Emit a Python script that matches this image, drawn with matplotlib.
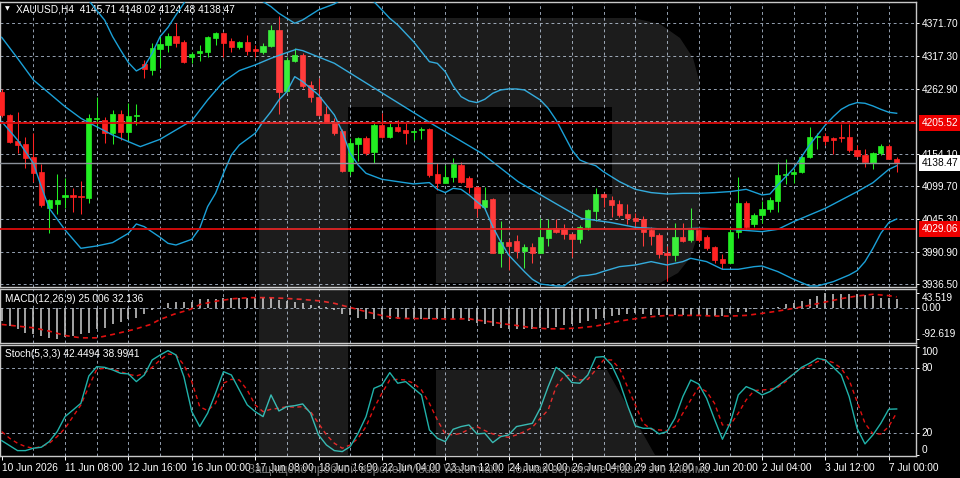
import matplotlib
matplotlib.use("Agg")
import matplotlib.pyplot as plt
from matplotlib.patches import Polygon
from matplotlib.transforms import blended_transform_factory
import numpy as np

W, H = 960, 478

# XAUUSD H4 bars, 10 Jun 2026 00:00 .. 7 Jul 2026 04:00
opens = [4257.7, 4218.8, 4176.0, 4170.4, 4149.3, 4123.2, 4063.0, 4069.9, 4082.6, 4085.0,
         4083.7, 4080.9, 4211.5, 4209.9, 4189.3, 4220.5, 4191.0, 4216.5, 4303.3, 4293.9,
         4328.3, 4335.6, 4350.6, 4341.1, 4315.0, 4321.7, 4323.3, 4346.7, 4356.1, 4342.2,
         4332.8, 4340.0, 4328.3, 4324.4, 4334.4, 4360.6, 4259.4, 4308.8, 4318.9, 4268.9,
         4248.3, 4220.5, 4207.7, 4192.6, 4125.9, 4170.4, 4179.9, 4157.5, 4202.1, 4181.5,
         4199.3, 4193.8, 4191.0, 4193.8, 4195.0, 4120.4, 4106.0, 4114.8, 4135.4, 4113.2,
         4099.3, 4064.8, 4078.1, 3989.2, 4007.5, 4009.2, 3992.5, 3998.1, 3989.2, 4013.1,
         4029.8, 4029.8, 4020.3, 4011.4, 4031.4, 4059.2, 4087.0, 4077.0, 4070.3, 4053.7,
         4046.4, 4044.8, 4027.0, 4018.6, 3988.1, 3985.3, 4015.8, 4010.3, 4027.0, 4015.8,
         3998.1, 3978.0, 3972.5, 4024.2, 4072.6, 4037.0, 4052.0, 4061.4, 4075.9, 4118.7,
         4120.4, 4124.3, 4148.2, 4181.5, 4183.8, 4179.9, 4181.5, 4181.5, 4160.4, 4151.5,
         4139.3, 4154.9, 4167.1, 4145.71]
highs = [4262.0, 4221.0, 4224.4, 4182.7, 4188.2, 4136.5, 4078.0, 4120.4, 4113.2, 4096.5,
         4108.8, 4219.9, 4249.4, 4214.9, 4227.1, 4227.1, 4238.3, 4237.2, 4310.5, 4338.3,
         4348.3, 4355.0, 4371.7, 4343.9, 4324.4, 4335.6, 4350.6, 4357.8, 4357.8, 4346.7,
         4342.8, 4352.2, 4335.6, 4338.3, 4368.9, 4384.0, 4316.1, 4331.1, 4322.8, 4276.1,
         4280.0, 4233.8, 4213.2, 4194.9, 4179.9, 4182.7, 4183.8, 4206.0, 4221.6, 4204.9,
         4210.4, 4206.0, 4193.8, 4198.2, 4196.6, 4138.2, 4135.4, 4146.5, 4141.0, 4117.1,
         4100.4, 4099.3, 4079.8, 4042.5, 4011.4, 4018.6, 4003.6, 4004.7, 4046.4, 4044.8,
         4044.8, 4037.0, 4021.4, 4035.3, 4061.4, 4096.5, 4089.3, 4083.7, 4077.0, 4070.3,
         4054.8, 4050.4, 4032.5, 4021.4, 4000.3, 4039.2, 4039.2, 4063.1, 4032.5, 4018.6,
         4000.3, 3986.9, 4032.5, 4115.9, 4075.3, 4054.8, 4075.9, 4081.5, 4141.0, 4144.9,
         4128.2, 4150.4, 4198.2, 4189.3, 4189.3, 4181.5, 4203.8, 4203.8, 4168.7, 4161.5,
         4157.5, 4170.4, 4170.4, 4148.02]
lows = [4215.0, 4172.0, 4154.9, 4129.9, 4107.6, 4066.0, 4022.5, 4053.7, 4063.1, 4057.6,
        4053.1, 4072.6, 4196.5, 4171.5, 4170.4, 4177.1, 4177.1, 4202.1, 4281.1, 4285.5,
        4296.7, 4324.4, 4332.8, 4306.1, 4306.1, 4309.4, 4315.0, 4335.6, 4315.0, 4324.4,
        4328.3, 4318.9, 4316.1, 4320.5, 4332.8, 4219.9, 4257.7, 4307.7, 4263.3, 4241.1,
        4217.1, 4204.9, 4185.4, 4124.0, 4118.7, 4142.6, 4152.1, 4138.2, 4179.9, 4179.9,
        4191.0, 4170.4, 4177.1, 4178.2, 4116.0, 4093.7, 4104.9, 4107.6, 4106.0, 4088.2,
        4049.2, 4060.0, 3988.1, 3965.8, 3960.3, 3979.7, 3963.0, 3971.4, 3988.1, 4000.3,
        4021.4, 4011.4, 3981.4, 4004.7, 4027.0, 4042.5, 4064.8, 4049.2, 4049.2, 4037.0,
        4032.5, 4000.3, 4002.0, 3979.7, 3942.5, 3975.8, 4007.5, 4007.5, 4007.5, 3993.6,
        3971.4, 3961.9, 3971.4, 4013.1, 4027.0, 4031.4, 4039.2, 4057.5, 4057.5, 4103.8,
        4106.0, 4121.5, 4146.5, 4161.5, 4168.7, 4153.8, 4174.3, 4157.5, 4148.2, 4132.1,
        4129.3, 4151.5, 4144.9, 4124.48]
closes = [4218.8, 4174.3, 4168.2, 4146.5, 4121.5, 4068.7, 4077.0, 4077.7, 4085.4, 4082.6,
          4081.5, 4213.2, 4213.2, 4189.3, 4220.5, 4191.0, 4217.7, 4218.8, 4295.0, 4330.0,
          4336.7, 4351.1, 4339.4, 4307.7, 4320.5, 4325.5, 4348.3, 4356.1, 4339.4, 4331.7,
          4340.0, 4326.1, 4326.1, 4334.4, 4360.6, 4257.7, 4310.5, 4318.9, 4267.2, 4248.3,
          4218.8, 4206.0, 4189.3, 4125.9, 4171.5, 4179.9, 4155.8, 4202.1, 4181.5, 4199.3,
          4192.6, 4189.3, 4192.6, 4195.4, 4118.7, 4106.0, 4114.8, 4137.1, 4107.6, 4098.2,
          4063.1, 4077.0, 3989.2, 4007.5, 4000.3, 3992.5, 3998.1, 3988.1, 4014.7, 4028.1,
          4024.2, 4020.3, 4011.4, 4032.5, 4060.3, 4087.0, 4081.5, 4068.7, 4052.0, 4046.4,
          4042.5, 4024.2, 4017.0, 3986.9, 3985.3, 4015.8, 4009.2, 4027.0, 4010.3, 3996.4,
          3976.9, 3972.5, 4024.2, 4071.4, 4032.5, 4052.0, 4061.4, 4077.0, 4118.7, 4120.4,
          4124.3, 4148.2, 4181.5, 4183.8, 4176.0, 4177.1, 4179.9, 4160.4, 4150.4, 4140.4,
          4155.8, 4167.1, 4145.7, 4138.47]

# Bollinger bands, read at bar positions
bb_up_x = [0, 8, 12, 13, 14, 15, 16, 17, 18, 19, 20, 21, 22, 23, 24, 28, 31, 33, 34, 35, 36, 37, 38,
           40, 42, 44, 46, 47, 48, 49, 50, 51, 52, 53, 54, 55, 56, 57, 58, 59, 60, 61, 62, 63, 64,
           65, 66, 67, 68, 69, 70, 71, 72, 73, 74, 75, 76, 78, 80, 82, 84, 86, 88, 90, 92, 94, 96,
           97, 98, 99, 100, 101, 102, 103, 104, 105, 106, 107, 108, 109, 110, 111, 112, 113]
bb_up = [4500, 4460, 4393, 4377, 4349.5, 4327.2, 4306.1, 4292.2, 4299.4, 4321.7, 4349.5, 4365,
         4385.6, 4405, 4425, 4470, 4440, 4407.8, 4399.5, 4388.4, 4380, 4371.7, 4377.3,
         4394, 4404, 4420, 4410, 4407.8, 4394, 4380, 4369, 4355, 4341.1, 4324.4, 4307.7, 4304.9,
         4291, 4267.2, 4249.4, 4242.2, 4239.4, 4245, 4255, 4260.5, 4262.2,
         4262.2, 4260.5, 4252.2, 4243.8, 4229.9, 4210.4, 4185.4, 4160.4, 4143.7, 4138.2, 4134.2,
         4124, 4107.6, 4094.8, 4089.3, 4087, 4088.1, 4088.1, 4089.3, 4091, 4094.8, 4085.4,
         4087, 4102.1, 4116, 4129.9, 4149.3, 4168.7, 4185.4, 4202.1, 4216, 4228.2, 4235.4,
         4239.4, 4238.3, 4233.8, 4228.2, 4223.3, 4221.6]
bb_mid_x = [0, 2, 4, 6, 8, 10, 11, 14, 17.5, 20, 22, 24, 26, 28, 30, 32, 34, 36, 37.2, 38, 42,
            54.2, 60.6, 65.2, 69.9, 73.2, 77, 80, 84, 88, 92, 96, 98, 100, 104, 108, 110, 112, 113]
bb_mid = [4348.3, 4313.3, 4277.2, 4255, 4232.7, 4213.2, 4206, 4185.4, 4166, 4178.2, 4193.8,
          4209.3, 4243.8, 4274.4, 4292.8, 4302.2, 4313.3, 4322.8, 4328.3, 4326.1, 4305,
          4204.9, 4154.9, 4107.6, 4071.4, 4046.4, 4039.2, 4031.4, 4028.1, 4029.8, 4028.1,
          4024.2, 4028.1, 4040.9, 4063.1, 4090.8, 4105.8, 4128, 4134.2]
bb_low_x = [0, 2, 4, 5, 6, 8, 10, 12, 14, 16, 17, 18, 20, 21, 22, 24, 25, 26, 27, 28, 29, 30, 32,
            33, 34, 35, 36, 37, 38, 40, 42, 43, 44, 45, 46, 48, 50, 52, 54, 55, 56, 57, 58, 59,
            60, 61, 62, 63, 64, 65, 66, 67, 68, 70, 71, 72, 73, 74, 75, 76, 78, 80, 82, 84, 86,
            87, 89, 91, 93, 95, 96, 98, 100, 102, 103, 105, 107, 108, 109, 110, 111, 112, 113]
bb_low = [4207.7, 4177.1, 4138.2, 4099.3, 4063.1, 4027, 3996.4, 4000.3, 4005.9, 4021.4, 4037,
          4032.5, 4014.7, 4004.7, 4001.9, 4011.4, 4029.8, 4065.9, 4088.1, 4121.5, 4152.1,
          4168.7, 4188.2, 4207.7, 4224.4, 4243.8, 4257.7, 4282.7, 4274.4, 4252.2, 4218.8,
          4191, 4154.9, 4135.4, 4121.5, 4111.5, 4107.6, 4103.8, 4106, 4094.8, 4089.3, 4096.5,
          4094.8, 4085.4, 4074.2, 4063.1, 4032.5, 4007.5, 3985.3, 3971.4, 3957.5, 3944.7,
          3936.9, 3933.6, 3933.6, 3943.6, 3950.3, 3951.4, 3953.6, 3958, 3965.8, 3968.6, 3974.2,
          3968.6, 3974.2, 3979.7, 3974.2, 3961.4, 3961.4, 3965.8, 3966.9, 3957.5, 3944.7,
          3933.6, 3933.6, 3940.8, 3951.9, 3959.2, 3974.2, 3996.4, 4021.4, 4039.2, 4045.3]

# MACD(12,26,9): main as histogram, signal as dotted line
macd_main = [-40, -55, -65, -75, -80, -85, -90, -92.619, -88, -85,
             -80, -75, -65, -60, -50, -43, -35, -30, -20, -7,
             0.5, 13, 17, 17, 18, 25, 25, 27, 28, 29,
             30, 30, 30, 29, 28, 23, 20, 17, 13, 7,
             5, 3, -8, -20, -22, -30, -33, -33, -33, -33,
             -35, -33, -33, -33, -35, -35, -35, -35, -35, -40,
             -45, -50, -55, -60, -63, -63, -65, -65, -60, -60,
             -57, -53, -50, -47, -40, -35, -30, -25, -23, -20,
             -17, -20, -23, -23, -23, -23, -23, -25, -25, -23,
             -25, -25, -17, -13, -13, -5, -3, -1, 3, 10,
             15, 20, 27, 35, 43.519, 41, 41, 41, 42, 37,
             35, 30, 30, 25.006]
macd_sig_x = [0, 2, 4, 6, 8, 10, 12, 14, 16.7, 18.8, 20, 21.7, 23.8, 25.1, 27.2, 29.3, 31.4, 33.5,
              35.7, 37.8, 40.3, 42, 44.1, 46.2, 48.3, 50.4, 54.6, 57, 59, 60, 62, 63, 65, 67, 69,
              71, 73, 75, 76, 78, 80, 82, 84, 86, 88, 90, 92, 94, 96, 98, 100, 102, 104, 106,
              108, 110, 112, 113]
macd_sig = [-50, -55, -60, -70, -83, -90, -90, -80, -65, -50, -35, -20, -5, 10, 20, 27, 30, 30,
            28, 25, 20, 13, 0, -13, -25, -32, -33, -34, -33, -37, -43, -47, -53, -60, -63,
            -63, -60, -55, -50, -40, -33, -27, -23, -23, -23, -25, -25, -23, -17, -10, -2, 7, 17, 27,
            35, 40, 36, 32.136]

# Stochastic(5,3,3)
stoch_main = [13.2, 8.6, 4.0, 4.0, 6.2, 7.1, 12.3, 21.5, 35.4, 41.5,
              47.7, 72.9, 81.5, 80.9, 78.5, 75.4, 74.8, 67.7, 73.8, 87.7,
              92.3, 96.3, 92.3, 72.3, 40.0, 26.2, 38.5, 56.9, 76.9, 73.8,
              60.0, 46.2, 40.0, 35.4, 55.4, 40.6, 44.6, 45.5, 47.1, 38.5,
              18.5, 9.2, 4.0, 3.1, 7.7, 20.0, 35.4, 61.5, 64.6, 76.0,
              66.2, 67.7, 61.5, 55.4, 23.1, 15.4, 12.3, 23.7, 26.2, 27.7,
              19.4, 20.0, 11.4, 16.9, 18.5, 26.2, 27.7, 29.2, 43.1, 63.1,
              80.9, 75.4, 66.8, 66.2, 73.8, 90.2, 90.8, 83.1, 67.7, 46.2,
              26.8, 24.6, 24.6, 19.4, 21.5, 33.8, 53.8, 69.2, 65.5, 52.3,
              32.9, 14.5, 29.8, 55.4, 63.1, 60.0, 55.4, 58.5, 63.7, 69.2,
              74.8, 80.9, 84.6, 89.2, 87.7, 80.9, 73.8, 53.8, 24.6, 10.2,
              18.5, 29.2, 42.2, 42.4494]
stoch_sig = [21.5, 15.4, 10.8, 7.7, 6.2, 7.7, 10.8, 16.9, 24.6, 35.4,
             46.2, 63.1, 79.1, 80.0, 79.1, 76.9, 74.5, 72.9, 75.4, 80.9,
             87.7, 93.2, 92.3, 83.1, 67.7, 44.6, 40.9, 47.7, 66.2, 69.8,
             69.2, 60.0, 46.2, 40.0, 42.2, 43.1, 44.6, 44.0, 44.6, 40.0,
             29.2, 18.5, 10.8, 6.2, 9.2, 15.4, 26.2, 43.1, 56.9, 69.2,
             69.8, 69.2, 66.2, 60.0, 47.7, 32.3, 19.4, 18.5, 20.0, 23.7,
             26.2, 22.5, 19.4, 17.5, 16.3, 18.5, 21.5, 25.5, 33.8, 41.5,
             63.1, 72.9, 73.8, 69.2, 69.8, 78.5, 87.7, 87.7, 80.0, 63.1,
             46.2, 29.2, 23.7, 23.1, 22.5, 26.2, 38.5, 50.8, 62.5, 58.5,
             47.7, 27.7, 27.7, 38.5, 50.8, 59.4, 60.0, 60.6, 62.5, 67.7,
             75.4, 80.0, 82.2, 86.2, 87.7, 85.2, 80.0, 69.2, 49.2, 29.2,
             19.4, 19.4, 26.2, 38.9941]

time_labels = ["10 Jun 2026", "11 Jun 08:00", "12 Jun 16:00", "16 Jun 00:00", "17 Jun 08:00",
               "18 Jun 16:00", "22 Jun 04:00", "23 Jun 12:00", "24 Jun 20:00", "26 Jun 04:00",
               "29 Jun 12:00", "30 Jun 20:00", "2 Jul 04:00", "3 Jul 12:00", "7 Jul 00:00"]
time_label_bars = list(range(0, 113, 8))

price_grid = [4371.70, 4317.30, 4262.90, 4208.50, 4154.10, 4099.70, 4045.30, 3990.90, 3936.50]
price_ticks = [4371.70, 4317.30, 4262.90, 4154.10, 4099.70, 4045.30, 3990.90, 3936.50]
level_lines = [4205.52, 4029.06]
last_price = 4138.47

title_main = "XAUUSD,H4  4145.71 4148.02 4124.48 4138.47"
title_macd = "MACD(12,26,9) 25.006 32.136"
title_stoch = "Stoch(5,3,3) 42.4494 38.9941"
watermark = "Защищено пробной версией Visual Watermark. Полная версия не ставит это клеймо."

# ---- style ----
plt.rcParams['font.family'] = ['Liberation Sans Narrow', 'Liberation Sans', 'DejaVu Sans']
FS = 7.3
BULL, BEAR = '#22ee22', '#ff2222'
BAND = '#1ba1d8'
GRID = '#8f9bab'
BORDER = '#c8c8c8'
XLIM = (-0.215, 115.44)

fig = plt.figure(figsize=(W / 100, H / 100), dpi=100, facecolor='black')


def px_axes(x0, y0, x1, y1):
    ax = fig.add_axes([x0 / W, 1 - y1 / H, (x1 - x0) / W, (y1 - y0) / H])
    ax.set_facecolor('black')
    for s in ax.spines.values():
        s.set_color(BORDER)
        s.set_linewidth(1.0)
    ax.set_xlim(*XLIM)
    ax.yaxis.tick_right()
    ax.tick_params(axis='y', colors='white', labelsize=FS, length=2.2, width=0.7, pad=1.8)
    ax.set_xticks([])
    for b in range(4, 114, 4):
        ax.axvline(b, color=GRID, lw=0.72, dashes=(2.9, 2.9), zorder=0)
    return ax


ax = px_axes(0, 1.7, 916, 286.5)
am = px_axes(0, 288.8, 916, 342.7)
ast = px_axes(0, 345.0, 916, 455.7)

# ---- main price chart ----
ax.set_ylim(3932.7, 4407.7)
for p in price_grid:
    ax.axhline(p, color=GRID, lw=0.72, dashes=(2.9, 2.9), zorder=0)
ax.set_yticks(price_ticks)
ax.set_yticklabels(['%.2f' % p for p in price_ticks])

n = len(closes)
xs = np.arange(n)
o = np.array(opens)
c = np.array(closes)
cols = [BULL if c[i] >= o[i] else BEAR for i in range(n)]
ax.vlines(xs, lows, highs, colors=cols, lw=0.75, zorder=2)
ax.bar(xs, np.maximum(np.abs(c - o), 0.6), bottom=np.minimum(o, c), width=0.66,
       color=cols, edgecolor=cols, linewidth=0.5, zorder=3)

ax.plot(bb_up_x, bb_up, color=BAND, lw=1.0, zorder=4)
ax.plot(bb_mid_x, bb_mid, color=BAND, lw=1.0, zorder=4)
ax.plot(bb_low_x, bb_low, color=BAND, lw=1.0, zorder=4)

for lv in level_lines:
    ax.axhline(lv, color='#dd0b0b', lw=1.3, zorder=5)
ax.axhline(last_price, color='#8a9099', lw=1.0, zorder=5)

trans = blended_transform_factory(ax.transAxes, ax.transData)
for lv in level_lines:
    ax.text(1 + 5.5 / 916, lv, '%.2f' % lv, transform=trans, ha='left', va='center',
            fontsize=FS, color='white', clip_on=False, zorder=20,
            bbox=dict(boxstyle='square,pad=0.28', fc='#ee0000', ec='none'))
ax.text(1 + 5.5 / 916, last_price, '%.2f' % last_price, transform=trans, ha='left',
        va='center', fontsize=FS, color='black', clip_on=False, zorder=20,
        bbox=dict(boxstyle='square,pad=0.28', fc='white', ec='none'))

ax.text(4.5 / 916, 1 - 7.3 / 284.8, '\u25bc', transform=ax.transAxes, ha='left', va='center',
        fontsize=4.5, color='white', family='DejaVu Sans')
ax.text(15.7 / 916, 1 - 7.3 / 284.8, title_main, transform=ax.transAxes, ha='left',
        va='center', fontsize=FS, color='white')

# ---- MACD ----
am.set_ylim(-104.5, 56.4)
am.axhline(0, color=GRID, lw=0.72, dashes=(2.9, 2.9), zorder=0)
am.vlines(xs, 0, macd_main, colors='#c0c0c0', lw=1.2, zorder=2)
am.plot(macd_sig_x, macd_sig, color='#e01010', lw=1.2, dashes=(3, 2.5), zorder=3)
am.set_yticks([43.519, 0.0, -92.619])
am.set_yticklabels(['43.519', '0.00', '-92.619'])
for t, va in zip(am.get_yticklabels(), ['top', 'center', 'bottom']):
    t.set_va(va)
am.text(5 / 916, 0.82, title_macd, transform=am.transAxes, ha='left', va='center',
        fontsize=FS, color='white')

# ---- Stochastic ----
ast.set_ylim(-0.7, 101.5)
for lv in (80, 20):
    ast.axhline(lv, color=GRID, lw=0.72, dashes=(2.9, 2.9), zorder=0)
ast.plot(xs, stoch_main, color='#20b2aa', lw=1.0, zorder=3)
ast.plot(xs, stoch_sig, color='#e01010', lw=1.0, dashes=(3, 2.5), zorder=2)
ast.set_yticks([100, 80, 20, 0])
ast.set_yticklabels(['100', '80', '20', '0'])
for t, va in zip(ast.get_yticklabels(), ['top', 'center', 'center', 'bottom']):
    t.set_va(va)
ast.text(5 / 916, 1 - 9 / 110.7, title_stoch, transform=ast.transAxes, ha='left',
         va='center', fontsize=FS, color='white')

ast.set_xticks(time_label_bars)
ast.set_xticklabels(time_labels)
ast.tick_params(axis='x', colors='white', labelsize=FS, length=3, width=0.7, pad=2.5)
for t in ast.get_xticklabels():
    t.set_ha('left')

# ---- trial watermark overlay ----
r_body = [(259, 18), (633, 18), (660, 24), (680, 38), (693, 58), (699, 80), (700, 107),
          (700, 200), (698, 235), (690, 258), (678, 273), (660, 283), (436, 283), (436, 194),
          (612, 194), (612, 107), (348, 107), (348, 455), (259, 455)]
r_leg = [(436, 370), (607, 370), (655, 455), (436, 455)]
for shape in (r_body, r_leg):
    pts = [(x / W, 1 - y / H) for x, y in shape]
    fig.add_artist(Polygon(pts, closed=True, transform=fig.transFigure, facecolor='white',
                           edgecolor='none', alpha=0.115, zorder=10))
fig.text(480 / W, 1 - 470 / H, watermark, ha='center', va='center', fontsize=8.5,
         color='#7d7d7d', family=['Liberation Sans', 'DejaVu Sans'], zorder=11)

fig.savefig('out.png', dpi=100, facecolor='black')
